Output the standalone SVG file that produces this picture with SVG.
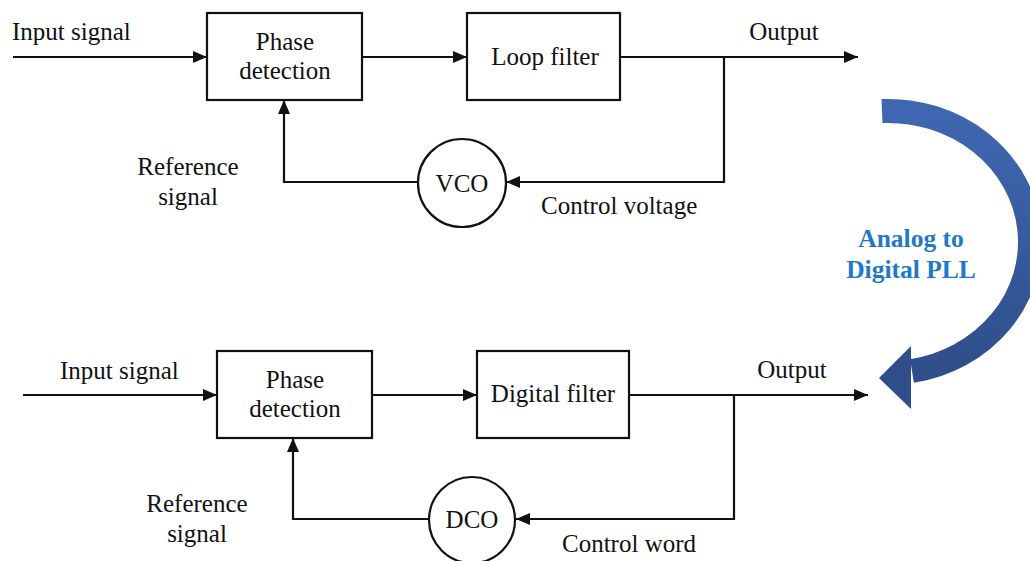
<svg xmlns="http://www.w3.org/2000/svg" width="1030" height="561" viewBox="0 0 1030 561">
<style>
text{font-family:"Liberation Serif","Times New Roman",serif;font-size:25px;fill:#111}
.c{text-anchor:middle}
.box{fill:#fff;stroke:#111;stroke-width:2.2}
.ln{fill:none;stroke:#111;stroke-width:2.2}
.blue{font-weight:bold;fill:#1f78c8;font-size:25.5px}
</style>
<defs>
<marker id="ah" markerWidth="14" markerHeight="12" refX="14" refY="6" orient="auto" markerUnits="userSpaceOnUse">
<path d="M0,0 L14,6 L0,12 Z" fill="#111"/>
</marker>
<linearGradient id="bg" x1="0" y1="0" x2="0" y2="1">
<stop offset="0" stop-color="#3f67b1"/>
<stop offset="1" stop-color="#2f4e8a"/>
</linearGradient>
</defs>

<g id="connectors">
<line class="ln" x1="13" y1="57" x2="207" y2="57" marker-end="url(#ah)"/>
<line class="ln" x1="362" y1="57" x2="467" y2="57" marker-end="url(#ah)"/>
<line class="ln" x1="620" y1="57" x2="858" y2="57" marker-end="url(#ah)"/>
<polyline class="ln" points="724,57 724,182 506,182" marker-end="url(#ah)"/>
<polyline class="ln" points="418,182 284,182 284,100" marker-end="url(#ah)"/>

<line class="ln" x1="23" y1="395" x2="217" y2="395" marker-end="url(#ah)"/>
<line class="ln" x1="372" y1="395" x2="477" y2="395" marker-end="url(#ah)"/>
<line class="ln" x1="629" y1="395" x2="868" y2="395" marker-end="url(#ah)"/>
<polyline class="ln" points="734,395 734,519 516,519" marker-end="url(#ah)"/>
<polyline class="ln" points="428,519 293,519 293,438" marker-end="url(#ah)"/>
</g>

<g id="phase1">
<rect class="box" x="207" y="13" width="155" height="87"/>
<text class="c" x="285" y="50">Phase</text>
<text class="c" x="285" y="79">detection</text>
</g>
<g id="loopfilter">
<rect class="box" x="467" y="13" width="153" height="87"/>
<text class="c" x="545" y="65">Loop filter</text>
</g>
<g id="vco">
<circle class="box" cx="462" cy="183" r="44"/>
<text class="c" x="462" y="192">VCO</text>
</g>
<g id="labels1">
<text x="12" y="40">Input signal</text>
<text class="c" x="784" y="40">Output</text>
<text class="c" x="188" y="175">Reference</text>
<text class="c" x="188" y="205">signal</text>
<text x="541" y="214">Control voltage</text>
</g>

<g id="phase2">
<rect class="box" x="217" y="351" width="155" height="87"/>
<text class="c" x="295" y="388">Phase</text>
<text class="c" x="295" y="417">detection</text>
</g>
<g id="digitalfilter">
<rect class="box" x="477" y="351" width="152" height="87"/>
<text class="c" x="553" y="402">Digital filter</text>
</g>
<g id="dco">
<circle class="box" cx="472" cy="520" r="43"/>
<text class="c" x="472" y="528">DCO</text>
</g>
<g id="labels2">
<text x="60" y="379">Input signal</text>
<text class="c" x="792" y="378">Output</text>
<text class="c" x="197" y="512">Reference</text>
<text class="c" x="197" y="542">signal</text>
<text x="562" y="552">Control word</text>
</g>

<g id="transition">
<path d="M882,111 A142,131 0 0 1 912,371" fill="none" stroke="url(#bg)" stroke-width="24"/>
<polygon points="879,378 911,346 911,409" fill="#2f4e8a"/>
<text class="c blue" x="911" y="247">Analog to</text>
<text class="c blue" x="911" y="278">Digital PLL</text>
</g>
</svg>
